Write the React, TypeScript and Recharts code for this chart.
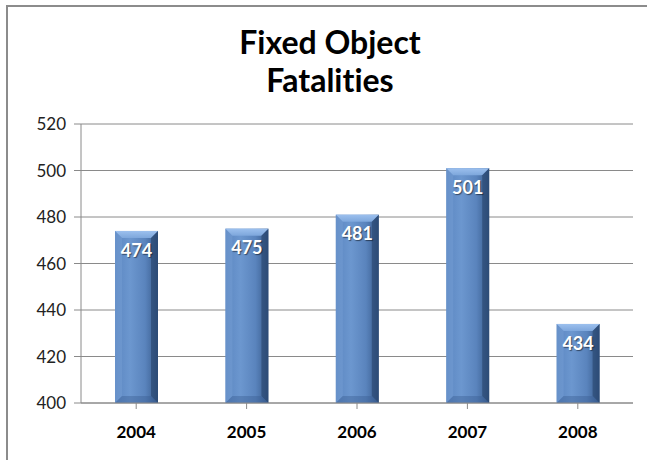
import React from 'react';
import { BarChart, Bar, XAxis, YAxis, CartesianGrid, LabelList } from 'recharts';

const years = ['2004', '2005', '2006', '2007', '2008'];
const fatalities = [474, 475, 481, 501, 434];
const yTicks = [400, 420, 440, 460, 480, 500, 520];

const data = years.map((year, i) => ({ year, value: fatalities[i] }));

const FONT = 'Lato, "Open Sans", sans-serif';

// Bevelled bar in the style of the old Office charts
function BevelBar(props: any) {
    const { x, y, width, height } = props;
    if (!height || height <= 0) return null;
    const b = Math.min(7, height / 2);
    return (
        <g>
            <rect x={x} y={y} width={width} height={height} fill="url(#barBody)" />
            {/* top bevel */}
            <polygon
                points={`${x},${y} ${x + width},${y} ${x + width - b},${y + b} ${x + b},${y + b}`}
                fill="url(#barTop)"
            />
            {/* left bevel */}
            <polygon
                points={`${x},${y} ${x + b},${y + b} ${x + b},${y + height - b} ${x},${y + height}`}
                fill="#7aa3d8"
                opacity={0.4}
            />
            {/* right bevel */}
            <polygon
                points={`${x + width},${y} ${x + width - b},${y + b} ${x + width - b},${y + height - b} ${x + width},${y + height}`}
                fill="#243f66"
                opacity={0.55}
            />
            {/* bottom bevel */}
            <polygon
                points={`${x},${y + height} ${x + b},${y + height - b} ${x + width - b},${y + height - b} ${x + width},${y + height}`}
                fill="#3a5d90"
                opacity={0.4}
            />
        </g>
    );
}

export default function App() {
    return (
        <div style={{ position: 'absolute', left: 0, top: 0, width: 647, height: 460, background: '#fff', overflow: 'hidden' }}>
            {/* outer frame, cut off at right and bottom */}
            <div style={{ position: 'absolute', left: 6, top: 5, width: 660, height: 480, border: '2px solid #8c8c8c', boxSizing: 'border-box' }} />
            <div
                style={{
                    position: 'absolute', left: 130, top: 23, width: 400, textAlign: 'center',
                    fontFamily: FONT, fontWeight: 700, fontSize: 32, lineHeight: '38px', color: '#000',
                    fontVariantLigatures: 'none',
                }}
            >
                Fixed Object<br />Fatalities
            </div>
            <div style={{ position: 'absolute', left: 0, top: 0 }}>
                <BarChart
                    width={647}
                    height={460}
                    data={data}
                    margin={{ top: 124, right: 14, left: 0, bottom: 17 }}
                    barSize={43}
                >
                    <defs>
                        <linearGradient id="barBody" x1="0" y1="0" x2="1" y2="0">
                            <stop offset="0%" stopColor="#5b86c1" />
                            <stop offset="35%" stopColor="#6c97cf" />
                            <stop offset="70%" stopColor="#5a84bd" />
                            <stop offset="100%" stopColor="#36598a" />
                        </linearGradient>
                        <linearGradient id="barTop" x1="0" y1="0" x2="0" y2="1">
                            <stop offset="0%" stopColor="#9cc0ee" />
                            <stop offset="100%" stopColor="#7ea7dc" />
                        </linearGradient>
                    </defs>
                    <CartesianGrid vertical={false} stroke="#8a8a8a" strokeWidth={1} />
                    <XAxis
                        dataKey="year"
                        axisLine={{ stroke: '#8a8a8a' }}
                        tickLine={{ stroke: '#8a8a8a' }}
                        tickSize={6}
                        height={40}
                        interval={0}
                        tick={{ fontFamily: FONT, fontWeight: 700, fontSize: 17, fill: '#000', dy: 15 }}
                    />
                    <YAxis
                        domain={[400, 520]}
                        ticks={yTicks}
                        width={81}
                        axisLine={{ stroke: '#8a8a8a' }}
                        tickLine={{ stroke: '#8a8a8a' }}
                        tickSize={7}
                        tickMargin={8}
                        allowDataOverflow
                        tick={{ fontFamily: FONT, fontSize: 17, fill: '#222' }}
                    />
                    <Bar dataKey="value" shape={<BevelBar />} isAnimationActive={false}>
                        <LabelList
                            dataKey="value"
                            position="insideTop"
                            offset={13}
                            style={{
                                fontFamily: FONT, fontWeight: 700, fontSize: 18, fill: '#fff',
                                textShadow: '1px 1px 1px rgba(0,0,0,0.5)',
                            }}
                        />
                    </Bar>
                </BarChart>
            </div>
        </div>
    );
}
